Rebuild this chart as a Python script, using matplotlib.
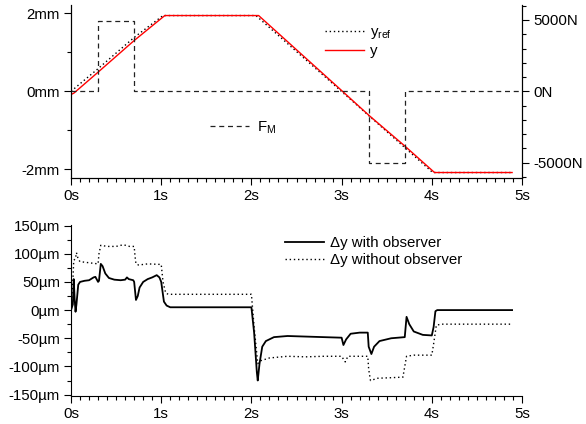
import matplotlib
matplotlib.use("Agg")
import matplotlib.pyplot as plt
from matplotlib.ticker import MultipleLocator

plt.rcParams['font.family'] = ['Liberation Sans', 'DejaVu Sans']
plt.rcParams['font.size'] = 10.8
plt.rcParams['mathtext.default'] = 'regular'

# --- top plot data: position (mm) and motor force (N) ---
t_ref = [0, 0.3, 0.7, 1.02, 2.05, 3.3, 3.7, 4.01, 4.89]
y_ref = [0, 0.58, 1.38, 1.94, 1.94, -0.62, -1.44, -2.08, -2.08]

t_y = [0, 0.03, 0.3, 0.7, 1.04, 2.08, 3.0, 3.3, 3.7, 4.03, 4.89]
y_y = [-0.08, -0.05, 0.49, 1.3, 1.94, 1.94, 0.02, -0.61, -1.40, -2.08, -2.08]

t_f = [0, 0.3, 0.3, 0.7, 0.7, 3.3, 3.3, 3.7, 3.7, 5.0]
f_m = [0, 0, 4950, 4950, 0, 0, -5000, -5000, 0, 0]

# --- bottom plot data: tracking error (um) ---
t_obs = [0.00, 0.02, 0.03, 0.04, 0.05, 0.06, 0.08, 0.10, 0.15, 0.20, 0.25, 0.27,
         0.30, 0.31, 0.33, 0.35, 0.38, 0.42, 0.48, 0.55, 0.60, 0.62, 0.64, 0.69,
         0.70, 0.72, 0.74, 0.76, 0.80, 0.85, 0.90, 0.95, 0.98, 1.00, 1.03, 1.06,
         1.10, 2.00, 2.03, 2.06, 2.07, 2.09, 2.12, 2.16, 2.25, 2.40, 2.60, 2.80,
         3.00, 3.02, 3.05, 3.10, 3.20, 3.29, 3.30, 3.33, 3.36, 3.42, 3.55, 3.70,
         3.71, 3.72, 3.75, 3.80, 3.90, 4.00, 4.02, 4.04, 4.06, 4.89]
dy_obs = [0, 10, 55, 20, -3, 10, 45, 50, 52, 53, 58, 59,
          50, 52, 82, 78, 65, 57, 54, 53, 54, 58, 55, 53,
          50, 18, 25, 40, 50, 55, 58, 62, 58, 50, 15, 8,
          5, 5, -40, -110, -125, -95, -65, -55, -48, -46, -47, -48,
          -49, -62, -52, -42, -40, -40, -65, -78, -65, -55, -50, -48,
          -30, -12, -25, -38, -44, -45, -30, -2, 0, 0]

t_noobs = [0.00, 0.02, 0.03, 0.05, 0.06, 0.08, 0.10, 0.20, 0.30, 0.31, 0.33, 0.40,
           0.50, 0.58, 0.65, 0.70, 0.71, 0.72, 0.75, 0.85, 1.00, 1.02, 1.05, 1.08,
           2.00, 2.03, 2.07, 2.10, 2.20, 2.40, 2.60, 2.80, 3.00, 3.04, 3.07, 3.29,
           3.30, 3.32, 3.40, 3.55, 3.68, 3.70, 3.72, 3.80, 4.00, 4.02, 4.05, 4.10,
           4.89]
dy_noobs = [0, 50, 88, 92, 102, 90, 86, 84, 82, 100, 115, 113,
            113, 116, 113, 113, 95, 82, 80, 82, 81, 50, 30, 28,
            28, -30, -95, -90, -85, -82, -83, -82, -82, -92, -82, -82,
            -105, -125, -121, -120, -119, -100, -82, -80, -80, -60, -27, -25,
            -25]

x_ticks = [0, 1, 2, 3, 4, 5]
x_labels = ['0s', '1s', '2s', '3s', '4s', '5s']
mm_ticks = [-2, 0, 2]
mm_labels = ['-2mm', '0mm', '2mm']
n_ticks = [-5000, 0, 5000]
n_labels = ['-5000N', '0N', '5000N']
um_ticks = [-150, -100, -50, 0, 50, 100, 150]
um_labels = ['-150µm', '-100µm', '-50µm', '0µm', '50µm', '100µm', '150µm']

fig = plt.figure(figsize=(5.86, 4.24), dpi=100)
ax1 = fig.add_axes([0.1212, 0.5802, 0.7696, 0.408])
ax3 = fig.add_axes([0.1212, 0.0667, 0.7696, 0.4026])


def style_ticks(ax):
    ax.tick_params(which='major', direction='out', length=5, width=0.8, pad=3)
    ax.tick_params(which='minor', direction='out', length=3, width=0.8)


# --- top ---
ax2 = ax1.twinx()
l_ref, = ax1.plot(t_ref, y_ref, color='black', ls=(0, (1, 2)), lw=1.0,
                  label='y$_{ref}$')
l_y, = ax1.plot(t_y, y_y, color='red', lw=1.0, label='y')
l_f, = ax2.plot(t_f, f_m, color='#222222', ls=(0, (4, 3)), lw=0.9,
                label='F$_{M}$')

ax1.set_xlim(0, 5)
ax1.set_ylim(-2.22, 2.21)
ax2.set_ylim(-6080, 6050)
ax1.set_xticks(x_ticks)
ax1.set_xticklabels(x_labels)
ax1.xaxis.set_minor_locator(MultipleLocator(0.1))
ax1.set_yticks(mm_ticks)
ax1.set_yticklabels(mm_labels)
ax1.yaxis.set_minor_locator(MultipleLocator(1))
ax2.set_yticks(n_ticks)
ax2.set_yticklabels(n_labels)
ax2.yaxis.set_minor_locator(MultipleLocator(1000))
for a in (ax1, ax2):
    a.spines['top'].set_visible(False)
    style_ticks(a)

ax1.legend(handles=[l_ref, l_y], loc='upper left', bbox_to_anchor=(0.55, 0.92),
           frameon=False, handlelength=2.6, handletextpad=0.4,
           borderaxespad=0, labelspacing=0.2)
ax2.legend(handles=[l_f], loc='upper left', bbox_to_anchor=(0.295, 0.375),
           frameon=False, handlelength=2.6, handletextpad=0.5, borderaxespad=0)

# --- bottom ---
ax3.plot(t_obs, dy_obs, color='black', lw=1.3, label='Δy with observer')
ax3.plot(t_noobs, dy_noobs, color='black', ls=(0, (1, 2)), lw=1.0,
         label='Δy without observer')
ax3.set_xlim(0, 5)
ax3.set_ylim(-152, 151)
ax3.set_xticks(x_ticks)
ax3.set_xticklabels(x_labels)
ax3.xaxis.set_minor_locator(MultipleLocator(0.1))
ax3.set_yticks(um_ticks)
ax3.set_yticklabels(um_labels)
ax3.yaxis.set_minor_locator(MultipleLocator(25))
ax3.spines['top'].set_visible(False)
ax3.spines['right'].set_visible(False)
style_ticks(ax3)
ax3.legend(loc='upper left', bbox_to_anchor=(0.462, 0.97), frameon=False,
           handlelength=2.6, handletextpad=0.4, borderaxespad=0,
           labelspacing=0.2)

fig.savefig('out.png', dpi=100)
